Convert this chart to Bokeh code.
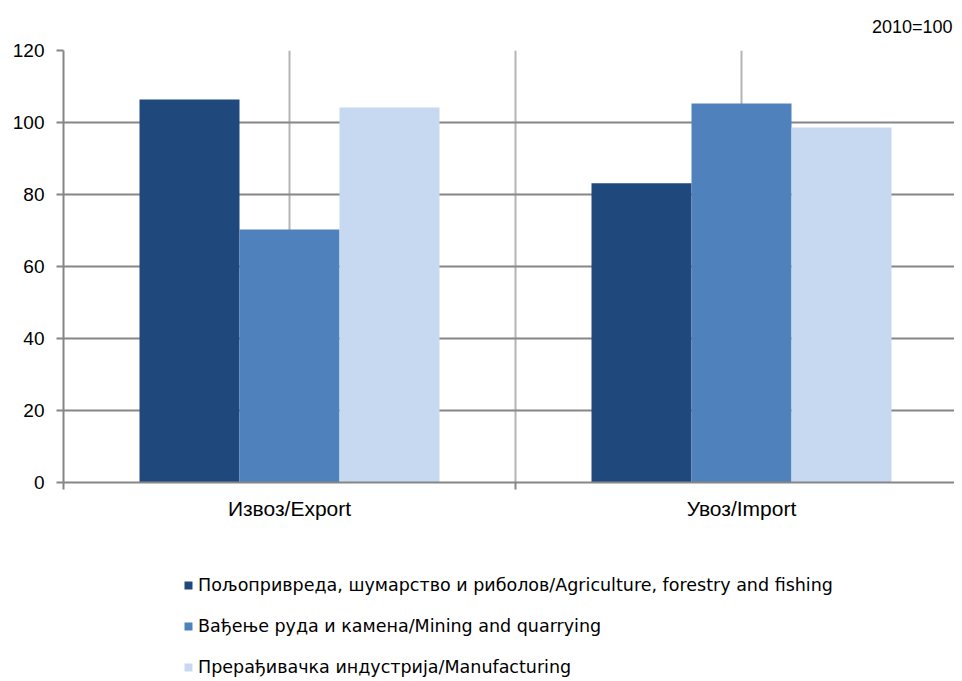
from bokeh.plotting import figure
from bokeh.layouts import column
from bokeh.models import Range1d, FixedTicker, Legend, LegendItem, ColumnDataSource, Title
from bokeh.embed import file_html
from bokeh.resources import INLINE

categories = ["Извоз/Export", "Увоз/Import"]
series = [
    "Пољопривреда, шумарство и риболов/Agriculture, forestry and fishing",
    "Вађење руда и камена/Mining and quarrying",
    "Прерађивачка индустрија/Manufacturing",
]
agriculture = [106.4, 83.1]
mining = [70.3, 105.3]
manufacturing = [104.2, 98.6]
colors = ["#1F497D", "#4F81BD", "#C6D9F1"]
y_ticks = [0, 20, 40, 60, 80, 100, 120]

FONT = "Liberation Sans"
LFONT = "DejaVu Sans"

p = figure(width=954, height=535, output_backend="svg", toolbar_location=None,
           x_range=Range1d(0, 891 / 452), y_range=Range1d(0, 120),
           min_border_left=63, min_border_top=50, min_border_right=0, min_border_bottom=53)
p.outline_line_color = None
p.background_fill_color = "white"

# legend-only figure below the chart (bars drawn outside its visible range)
lf = figure(width=954, height=142, output_backend="svg", toolbar_location=None,
            x_range=Range1d(0, 891 / 452), y_range=Range1d(1000, 1001),
            min_border_left=63, min_border_right=0, min_border_top=0, min_border_bottom=0)
lf.outline_line_color = None
lf.axis.visible = False
lf.grid.visible = False

bar_w = 100 / 452
values = [agriculture, mining, manufacturing]
lrs = []
for i, (vals, col) in enumerate(zip(values, colors)):
    xs = [c + 0.5 + (i - 1) * bar_w for c in range(len(categories))]
    src = ColumnDataSource(dict(x=xs, top=vals))
    p.vbar(x="x", top="top", bottom=0, width=bar_w, source=src,
           fill_color=col, line_color=None)
    lrs.append(lf.vbar(x="x", top="top", bottom=0, width=bar_w, source=src,
                       fill_color=col, line_color=None))

# axes
p.xaxis.ticker = FixedTicker(ticks=[0.5, 1.5], minor_ticks=[0, 1, 2])
p.xaxis.major_label_overrides = {0.5: categories[0], 1.5: categories[1]}
p.xaxis.major_tick_out = 0
p.xaxis.major_tick_in = 0
p.xaxis.minor_tick_out = 7
p.xaxis.minor_tick_in = 0
p.xaxis.minor_tick_line_color = "#868686"
p.xaxis.minor_tick_line_width = 2
p.xaxis.axis_line_color = "#868686"
p.xaxis.axis_line_width = 2
p.xaxis.major_label_standoff = 7
p.xaxis.major_label_text_font = FONT
p.xaxis.major_label_text_font_size = "21px"
p.xaxis.major_label_text_color = "#000000"

p.yaxis.ticker = FixedTicker(ticks=y_ticks)
p.yaxis.major_tick_out = 7
p.yaxis.major_tick_in = 0
p.yaxis.minor_tick_line_color = None
p.yaxis.major_tick_line_color = "#868686"
p.yaxis.major_tick_line_width = 2
p.yaxis.axis_line_color = "#868686"
p.yaxis.axis_line_width = 2
p.yaxis.major_label_standoff = 12
p.yaxis.major_label_text_font = FONT
p.yaxis.major_label_text_font_size = "19px"
p.yaxis.major_label_text_color = "#000000"

p.ygrid.grid_line_color = "#868686"
p.ygrid.grid_line_width = 2
p.xgrid.grid_line_color = "#B4B4B4"
p.xgrid.grid_line_width = 2
p.xgrid.minor_grid_line_color = "#B4B4B4"
p.xgrid.minor_grid_line_width = 2
p.xgrid.level = "underlay"
p.ygrid.level = "underlay"

t = Title(text="2010=100", align="right", text_font=FONT, text_font_size="18px",
          text_font_style="normal", text_color="#000000", offset=2, standoff=27)
p.add_layout(t, "above")

legend = Legend(items=[LegendItem(label=s, renderers=[r]) for s, r in zip(series, lrs)],
                location=(120, 0), orientation="vertical",
                glyph_width=10, glyph_height=10, label_standoff=5, spacing=21,
                label_text_font=LFONT, label_text_font_size="17.5px", label_text_color="#000000",
                border_line_color=None, background_fill_alpha=0, padding=0, margin=0,
                label_height=16)
lf.add_layout(legend, "center")

layout = column(p, lf, spacing=0)
open("out.html", "w").write(file_html(layout, INLINE))
